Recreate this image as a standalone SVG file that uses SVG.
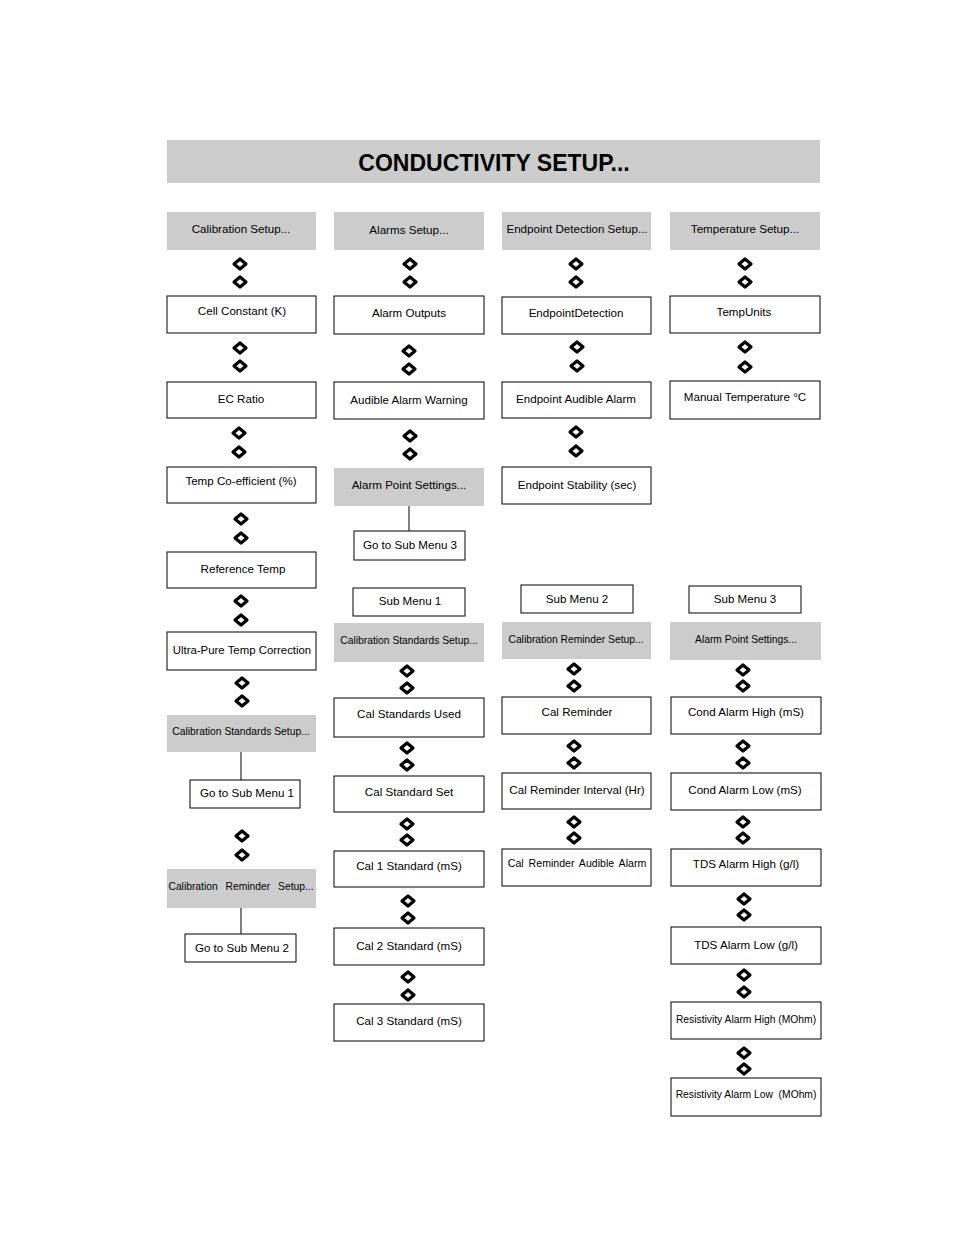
<svg xmlns="http://www.w3.org/2000/svg" xmlns:xlink="http://www.w3.org/1999/xlink" width="954" height="1235" viewBox="0 0 954 1235">
<style>
  .bg { fill: #ffffff; }
  .hdr { fill: #cccccc; stroke: none; }
  .box { fill: #ffffff; stroke: #000000; stroke-width: 1; }
  .t { font-family: "Liberation Sans", Arial, sans-serif; font-size: 11.6px; fill: #000000; text-anchor: middle; }
  .s { font-size: 10.3px; }
  .title { font-family: "Liberation Sans", Arial, sans-serif; font-size: 23px; font-weight: bold; fill: #000000; text-anchor: middle; }
  .ln { stroke: #000000; stroke-width: 1; fill: none; }
  .dia { fill: #ffffff; stroke: #000000; stroke-width: 3.2; stroke-linejoin: round; }
</style>
<defs>
  <polygon id="d" class="dia" points="0,-5 6,0 0,5 -6,0"/>
</defs>
<rect class="bg" x="0" y="0" width="954" height="1235"/>

<g id="title">
  <rect class="hdr" x="167" y="140" width="653" height="43"/>
  <text class="title" x="494" y="171">CONDUCTIVITY SETUP...</text>
</g>

<!-- Column 1 -->
<g id="calibration-setup"><rect class="hdr" x="167" y="212" width="149" height="38"/><text class="t" x="241" y="233">Calibration Setup...</text></g>
<g id="cell-constant"><rect class="box" x="167" y="296" width="149" height="37"/><text class="t" x="242" y="315">Cell Constant (K)</text></g>
<g id="ec-ratio"><rect class="box" x="167" y="382" width="149" height="36"/><text class="t" x="241" y="403">EC Ratio</text></g>
<g id="temp-coefficient"><rect class="box" x="167" y="467" width="149" height="36"/><text class="t" x="241" y="485">Temp Co-efficient (%)</text></g>
<g id="reference-temp"><rect class="box" x="167" y="552" width="149" height="36"/><text class="t" x="243" y="573">Reference Temp</text></g>
<g id="ultra-pure"><rect class="box" x="167" y="632" width="149" height="38"/><text class="t" x="242" y="654" style="font-size:11.4px">Ultra-Pure Temp Correction</text></g>
<g id="cal-standards-setup-1"><rect class="hdr" x="167" y="715" width="149" height="37"/><text class="t s" x="241" y="735">Calibration Standards Setup...</text></g>
<g id="go-sub-1"><rect class="box" x="190" y="780" width="110" height="28"/><text class="t" x="247" y="797">Go to Sub Menu 1</text></g>
<g id="cal-reminder-setup-1"><rect class="hdr" x="167" y="869" width="149" height="39"/><text class="t s" x="241" y="890" word-spacing="5">Calibration Reminder Setup...</text></g>
<g id="go-sub-2"><rect class="box" x="185" y="934" width="111" height="28"/><text class="t" x="242" y="952">Go to Sub Menu 2</text></g>

<!-- Column 2 -->
<g id="alarms-setup"><rect class="hdr" x="334" y="212" width="150" height="38"/><text class="t" x="409" y="234">Alarms Setup...</text></g>
<g id="alarm-outputs"><rect class="box" x="334" y="296" width="150" height="38"/><text class="t" x="409" y="317">Alarm Outputs</text></g>
<g id="audible-alarm-warning"><rect class="box" x="334" y="382" width="150" height="37"/><text class="t" x="409" y="404">Audible Alarm Warning</text></g>
<g id="alarm-point-settings-1"><rect class="hdr" x="334" y="468" width="150" height="38"/><text class="t" x="409" y="489">Alarm Point Settings...</text></g>
<g id="go-sub-3"><rect class="box" x="354" y="531" width="111" height="29"/><text class="t" x="410" y="549">Go to Sub Menu 3</text></g>
<g id="sub-menu-1"><rect class="box" x="353" y="588" width="112" height="28"/><text class="t" x="410" y="605">Sub Menu 1</text></g>
<g id="cal-standards-setup-2"><rect class="hdr" x="334" y="623" width="150" height="39"/><text class="t s" x="409" y="644">Calibration Standards Setup...</text></g>
<g id="cal-standards-used"><rect class="box" x="334" y="698" width="150" height="39"/><text class="t" x="409" y="718">Cal Standards Used</text></g>
<g id="cal-standard-set"><rect class="box" x="334" y="776" width="150" height="36"/><text class="t" x="409" y="796">Cal Standard Set</text></g>
<g id="cal-1-standard"><rect class="box" x="334" y="851" width="150" height="36"/><text class="t" x="409" y="870">Cal 1 Standard (mS)</text></g>
<g id="cal-2-standard"><rect class="box" x="334" y="928" width="150" height="37"/><text class="t" x="409" y="950">Cal 2 Standard (mS)</text></g>
<g id="cal-3-standard"><rect class="box" x="334" y="1004" width="150" height="37"/><text class="t" x="409" y="1025">Cal 3 Standard (mS)</text></g>

<!-- Column 3 -->
<g id="endpoint-detection-setup"><rect class="hdr" x="502" y="212" width="149" height="38"/><text class="t" x="577" y="233">Endpoint Detection Setup...</text></g>
<g id="endpoint-detection"><rect class="box" x="502" y="297" width="149" height="37"/><text class="t" x="576" y="317">EndpointDetection</text></g>
<g id="endpoint-audible-alarm"><rect class="box" x="502" y="382" width="149" height="36"/><text class="t" x="576" y="403">Endpoint Audible Alarm</text></g>
<g id="endpoint-stability"><rect class="box" x="502" y="467" width="149" height="37"/><text class="t" x="577" y="489">Endpoint Stability (sec)</text></g>
<g id="sub-menu-2"><rect class="box" x="521" y="585" width="112" height="28"/><text class="t" x="577" y="603">Sub Menu 2</text></g>
<g id="cal-reminder-setup-2"><rect class="hdr" x="502" y="622" width="149" height="37"/><text class="t s" x="576" y="643">Calibration Reminder Setup...</text></g>
<g id="cal-reminder"><rect class="box" x="502" y="697" width="149" height="37"/><text class="t" x="577" y="716">Cal Reminder</text></g>
<g id="cal-reminder-interval"><rect class="box" x="502" y="773" width="149" height="36"/><text class="t" x="577" y="794">Cal Reminder Interval (Hr)</text></g>
<g id="cal-reminder-audible"><rect class="box" x="502" y="849" width="149" height="37"/><text class="t" x="577" y="867" style="font-size:10.6px" word-spacing="2">Cal Reminder Audible Alarm</text></g>

<!-- Column 4 -->
<g id="temperature-setup"><rect class="hdr" x="670" y="212" width="150" height="38"/><text class="t" x="745" y="233">Temperature Setup...</text></g>
<g id="temp-units"><rect class="box" x="670" y="296" width="150" height="37"/><text class="t" x="744" y="316">TempUnits</text></g>
<g id="manual-temperature"><rect class="box" x="670" y="381" width="150" height="38"/><text class="t" x="745" y="401">Manual Temperature °C</text></g>
<g id="sub-menu-3"><rect class="box" x="689" y="586" width="112" height="27"/><text class="t" x="745" y="603">Sub Menu 3</text></g>
<g id="alarm-point-settings-2"><rect class="hdr" x="670" y="622" width="151" height="38"/><text class="t s" x="746" y="643">Alarm Point Settings...</text></g>
<g id="cond-alarm-high"><rect class="box" x="671" y="697" width="150" height="37"/><text class="t" x="746" y="716">Cond Alarm High (mS)</text></g>
<g id="cond-alarm-low"><rect class="box" x="671" y="773" width="150" height="37"/><text class="t" x="745" y="794">Cond Alarm Low (mS)</text></g>
<g id="tds-alarm-high"><rect class="box" x="671" y="849" width="150" height="37"/><text class="t" x="746" y="868">TDS Alarm High (g/l)</text></g>
<g id="tds-alarm-low"><rect class="box" x="671" y="927" width="150" height="37"/><text class="t" x="746" y="949">TDS Alarm Low (g/l)</text></g>
<g id="resistivity-alarm-high"><rect class="box" x="671" y="1002" width="150" height="37"/><text class="t s" x="746" y="1023">Resistivity Alarm High (MOhm)</text></g>
<g id="resistivity-alarm-low"><rect class="box" x="671" y="1078" width="150" height="38"/><text class="t s" x="746" y="1098" xml:space="preserve">Resistivity Alarm Low  (MOhm)</text></g>

<g id="connectors">
  <line class="ln" x1="241" y1="752" x2="241" y2="780"/>
  <line class="ln" x1="241" y1="908" x2="241" y2="934"/>
  <line class="ln" x1="409" y1="506" x2="409" y2="531"/>

  <!-- column 1 -->
  <use xlink:href="#d" x="240" y="264"/><use xlink:href="#d" x="240" y="282"/>
  <use xlink:href="#d" x="240" y="348"/><use xlink:href="#d" x="240" y="366"/>
  <use xlink:href="#d" x="239" y="433"/><use xlink:href="#d" x="239" y="452"/>
  <use xlink:href="#d" x="241" y="519"/><use xlink:href="#d" x="241" y="538"/>
  <use xlink:href="#d" x="241" y="601"/><use xlink:href="#d" x="241" y="620"/>
  <use xlink:href="#d" x="242" y="683"/><use xlink:href="#d" x="242" y="701"/>
  <use xlink:href="#d" x="242" y="836"/><use xlink:href="#d" x="242" y="855"/>

  <!-- column 2 -->
  <use xlink:href="#d" x="410" y="264"/><use xlink:href="#d" x="410" y="282"/>
  <use xlink:href="#d" x="409" y="351"/><use xlink:href="#d" x="409" y="369"/>
  <use xlink:href="#d" x="410" y="436"/><use xlink:href="#d" x="410" y="454"/>
  <use xlink:href="#d" x="407" y="671"/><use xlink:href="#d" x="407" y="688"/>
  <use xlink:href="#d" x="407" y="748"/><use xlink:href="#d" x="407" y="765"/>
  <use xlink:href="#d" x="407" y="824"/><use xlink:href="#d" x="407" y="840"/>
  <use xlink:href="#d" x="408" y="901"/><use xlink:href="#d" x="408" y="918"/>
  <use xlink:href="#d" x="408" y="977"/><use xlink:href="#d" x="408" y="995"/>

  <!-- column 3 -->
  <use xlink:href="#d" x="576" y="264"/><use xlink:href="#d" x="576" y="282"/>
  <use xlink:href="#d" x="577" y="347"/><use xlink:href="#d" x="577" y="366"/>
  <use xlink:href="#d" x="576" y="432"/><use xlink:href="#d" x="576" y="451"/>
  <use xlink:href="#d" x="574" y="669"/><use xlink:href="#d" x="574" y="686"/>
  <use xlink:href="#d" x="574" y="746"/><use xlink:href="#d" x="574" y="763"/>
  <use xlink:href="#d" x="574" y="822"/><use xlink:href="#d" x="574" y="838"/>

  <!-- column 4 -->
  <use xlink:href="#d" x="745" y="264"/><use xlink:href="#d" x="745" y="282"/>
  <use xlink:href="#d" x="745" y="347"/><use xlink:href="#d" x="745" y="367"/>
  <use xlink:href="#d" x="743" y="670"/><use xlink:href="#d" x="743" y="686"/>
  <use xlink:href="#d" x="743" y="746"/><use xlink:href="#d" x="743" y="763"/>
  <use xlink:href="#d" x="743" y="822"/><use xlink:href="#d" x="743" y="838"/>
  <use xlink:href="#d" x="744" y="899"/><use xlink:href="#d" x="744" y="915"/>
  <use xlink:href="#d" x="744" y="975"/><use xlink:href="#d" x="744" y="992"/>
  <use xlink:href="#d" x="744" y="1053"/><use xlink:href="#d" x="744" y="1069"/>
</g>
</svg>
